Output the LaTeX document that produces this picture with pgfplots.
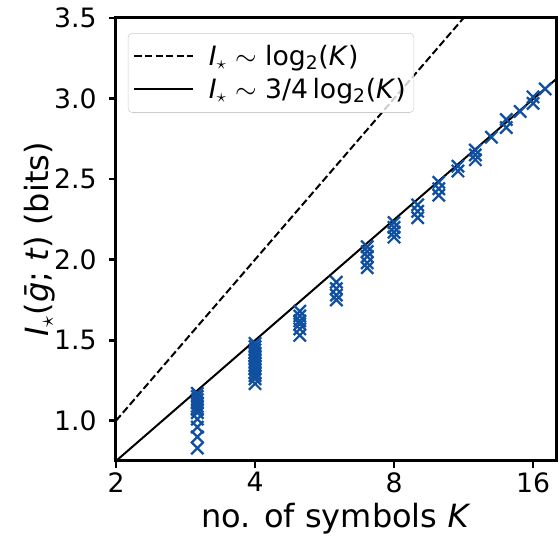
\documentclass[border=0pt]{standalone}
\usepackage{fontspec}
\setmainfont{DejaVu Sans}
\usepackage{pgfplots}
\usepackage{pgfplotstable}
\pgfplotsset{compat=1.18}
\usetikzlibrary{calc}
\definecolor{mblue}{RGB}{16,80,160}
\definecolor{legframe}{RGB}{204,204,204}

\pgfplotstableread{
K I
3 1.17
3 1.15
3 1.13
3 1.11
3 1.09
3 1.07
3 1.05
3 1.01
3 0.96
3 0.90
3 0.83
4 1.48
4 1.46
4 1.44
4 1.42
4 1.40
4 1.38
4 1.36
4 1.34
4 1.32
4 1.30
4 1.28
4 1.26
4 1.23
5 1.68
5 1.65
5 1.62
5 1.60
5 1.57
5 1.53
6 1.86
6 1.82
6 1.78
6 1.75
7 2.08
7 2.05
7 2.02
7 1.98
7 1.95
8 2.23
8 2.20
8 2.17
8 2.14
9 2.34
9 2.30
9 2.26
10 2.48
10 2.44
10 2.40
11 2.58
11 2.55
12 2.68
12 2.65
12 2.62
13 2.76
14 2.87
14 2.82
15 2.92
16 3.01
16 2.97
17 3.06
}\pts

\begin{document}
\begin{tikzpicture}
\begin{axis}[
  scale only axis, width=330pt, height=332.25pt,
  xmode=log, log basis x=2,
  xmin=2, xmax=17.94, ymin=0.75, ymax=3.5,
  xtick={2,4,8,16}, xticklabels={2,4,8,16}, minor xtick={},
  ytick={1,1.5,2,2.5,3,3.5},
  yticklabel style={/pgf/number format/fixed, /pgf/number format/fixed zerofill, /pgf/number format/precision=1, xshift=-6pt},
  /pgf/number format/assume math mode=true,
  tick label style={font=\fontsize{20}{24}\selectfont},
  label style={font=\fontsize{24}{29}\selectfont},
  xlabel={no. of symbols \textit{K}},
  ylabel={\textit{I}\textsubscript{$\star$}(\textit{ḡ}; \textit{t}) (bits)},
  xlabel style={at={(axis description cs:0.5,0)}, anchor=base, inner sep=0pt, yshift=-50pt},
  ylabel style={at={(axis description cs:0,0.5)}, anchor=base, yshift=50.5pt},
  axis line style={line width=2.25pt},
  tick style={line width=2pt, black}, major tick length=5pt, tick align=outside,
  xtick pos=bottom, ytick pos=left,
  legend style={at={(0.027,0.966)}, anchor=north west, draw=legframe, rounded corners=3pt,
    fill=white, fill opacity=0.8, text opacity=1, font=\fontsize{20}{24}\selectfont,
    inner xsep=4pt, inner ysep=7pt, row sep=4pt},
  legend cell align=left,
  legend image code/.code={\draw[#1, line width=1.5pt] (0pt,0pt) -- (44pt,0pt);},
]
\addplot[only marks, mark=x, mark size=6.5pt, mark options={line width=1.7pt, mblue}, forget plot] table[x=K, y=I] {\pts};
\addplot[black, line width=1.5pt, dash pattern=on 5.5pt off 2.4pt] coordinates {(2,1) (11.3137,3.5)};
\addlegendentry{\hspace{9pt}\textit{I}\textsubscript{$\star$} $\sim$ log\textsubscript{2}(\textit{K})}
\addplot[black, line width=1.5pt] coordinates {(2,0.75) (17.94,3.1200)};
\addlegendentry{\hspace{9pt}\textit{I}\textsubscript{$\star$} $\sim$ 3/4\,log\textsubscript{2}(\textit{K})}
\end{axis}
\pgfresetboundingbox
\path[use as bounding box] ($(current axis.south west)+(-87pt,-56.25pt)$) rectangle ($(current axis.north east)+(2.25pt,13.5pt)$);
\end{tikzpicture}
\end{document}
